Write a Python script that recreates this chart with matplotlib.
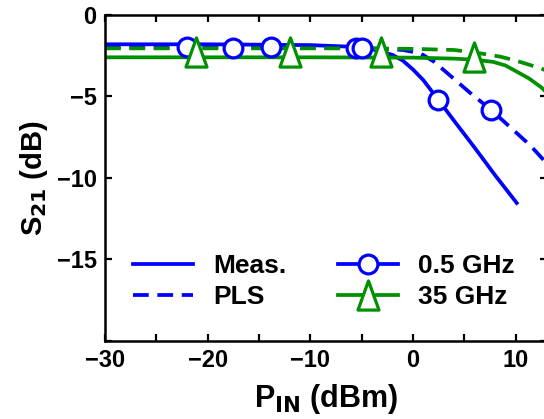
import matplotlib

matplotlib.use("Agg")

import matplotlib.pyplot as plt
from matplotlib.lines import Line2D
from matplotlib.path import Path

BLUE = "#0000ff"
GREEN = "#009000"

meas_05_x = [-30, -20, -10, -6, -4, -2, -1, 0, 1, 2.45, 4, 6, 8, 10.1]
meas_05_y = [-1.8, -1.8, -1.85, -1.95, -2.1, -2.45, -2.8, -3.35, -4.0, -5.2, -6.5, -8.15, -9.85, -11.55]

pls_05_x = [-30, -10, -4, -1, 0.7, 2, 3.3, 5.5, 7.6, 9.3, 11.4, 13]
pls_05_y = [-2.0, -2.0, -2.05, -2.15, -2.35, -2.85, -3.55, -4.75, -5.83, -6.8, -8.0, -9.1]

meas_35_x = [-30, -10, 0, 4, 6, 7.8, 9, 10.1, 11.3, 12.5, 13]
meas_35_y = [-2.6, -2.6, -2.62, -2.68, -2.75, -2.88, -3.1, -3.48, -3.9, -4.45, -4.75]

pls_35_x = [-30, -5, 0, 4, 6, 8.5, 10, 12.4, 13]
pls_35_y = [-2.05, -2.05, -2.08, -2.15, -2.3, -2.56, -2.8, -3.27, -3.42]

# marker positions
circ_x = [-22.0, -17.5, -13.8, -5.6, -5.0, 2.45, 7.6]
circ_y = [-1.95, -2.0, -1.95, -2.0, -2.0, -5.2, -5.83]
tri_x = [-21.1, -12.0, -3.1, 5.9]
tri_y = [-2.3, -2.3, -2.25, -2.55]

x_ticks = [-30, -20, -10, 0, 10]
y_ticks = [-15, -10, -5, 0]

plt.rcParams["font.family"] = ["Liberation Sans", "DejaVu Sans"]
plt.rcParams["font.weight"] = "bold"

tri_marker = Path([(0, 1), (-0.72, -1), (0.72, -1), (0, 1)], closed=True)

fig = plt.figure(figsize=(5.44, 4.19), dpi=100)
ax = fig.add_axes([105 / 544, 1 - 340.5 / 419, (546.5 - 105) / 544, (340.5 - 15) / 419])

lw = 2.7
dash = (4.2, 2.3)
ax.plot(meas_05_x, meas_05_y, color=BLUE, lw=lw)
ax.plot(pls_05_x, pls_05_y, color=BLUE, lw=lw, ls=(0, dash))
ax.plot(meas_35_x, meas_35_y, color=GREEN, lw=lw)
ax.plot(pls_35_x, pls_35_y, color=GREEN, lw=lw, ls=(0, dash))

ax.plot(circ_x, circ_y, ls="none", marker="o", ms=13.5, mfc="white", mec=BLUE, mew=2.3)
ax.plot(tri_x, tri_y, ls="none", marker=tri_marker, ms=21, mfc="white", mec=GREEN, mew=2.3)

ax.set_xlim(-30, 13)
ax.set_ylim(-20, 0)
ax.set_xticks(range(-30, 14, 5))
ax.set_xticklabels([str(t).replace("-", "\u2212") if t in x_ticks else "" for t in range(-30, 14, 5)])
ax.set_yticks([-20, -15, -10, -5, 0])
ax.set_yticklabels([""] + [str(t).replace("-", "\u2212") for t in y_ticks])
ax.tick_params(direction="in", length=5, width=1.6, top=True, right=True, labelsize=17, pad=6)
for s in ax.spines.values():
    s.set_linewidth(1.8)

ax.set_xlabel(r"P$_{\mathbf{IN}}$ (dBm)", fontsize=22, fontweight="bold", labelpad=7)
ax.set_ylabel(r"S$_{\mathbf{21}}$ (dB)", fontsize=21, fontweight="bold", labelpad=5)

handles = [
    Line2D([], [], color=BLUE, lw=lw),
    Line2D([], [], color=BLUE, lw=lw, ls=(0, dash)),
    Line2D([], [], color=BLUE, lw=lw, marker="o", ms=13.5, mfc="white", mec=BLUE, mew=2.3),
    Line2D([], [], color=GREEN, lw=lw, marker=tri_marker, ms=21, mfc="white", mec=GREEN, mew=2.3),
]
labels = ["Meas.", "PLS", "0.5 GHz", "35 GHz"]
ax.legend(handles, labels, ncol=2, frameon=False, fontsize=19, loc="upper left",
          bbox_to_anchor=(133 / 544, 1 - 254 / 419), bbox_transform=fig.transFigure,
          handlelength=2.27, handletextpad=0.76, columnspacing=1.95, labelspacing=0.28,
          borderpad=0, borderaxespad=0)

fig.savefig("out.png", dpi=100)
